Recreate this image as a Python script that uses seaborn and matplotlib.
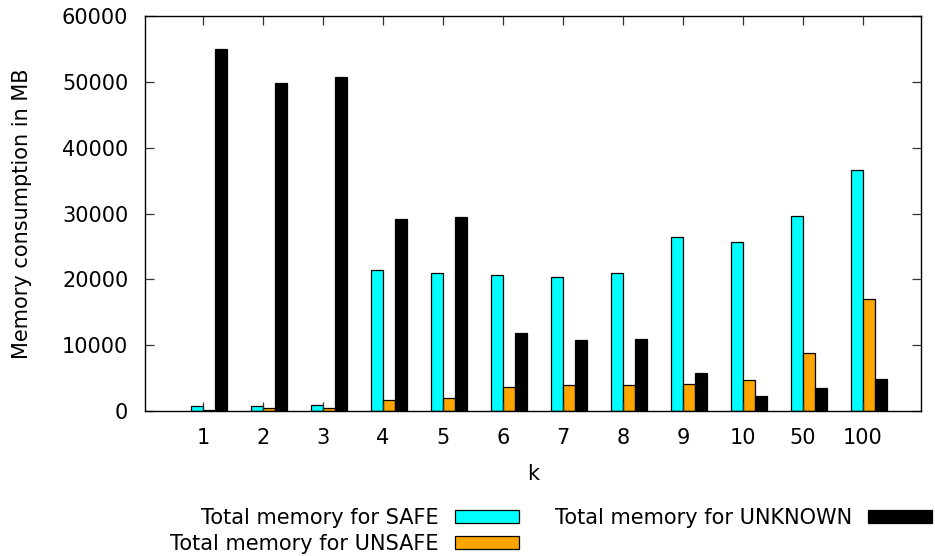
import matplotlib
matplotlib.use("Agg")
import matplotlib.pyplot as plt
import seaborn as sns
import numpy as np
import pandas as pd

k_labels = ["1", "2", "3", "4", "5", "6", "7", "8", "9", "10", "50", "100"]
safe_mem = [760, 760, 860, 21400, 20900, 20600, 20300, 20900, 26400, 25600, 29600, 36600]
unsafe_mem = [200, 450, 450, 1670, 1930, 3650, 3900, 3950, 4050, 4760, 8860, 17060]
unknown_mem = [55000, 49800, 50700, 29200, 29400, 11850, 10800, 11000, 5770, 2280, 3490, 4910]

series_names = ["Total memory for SAFE", "Total memory for UNSAFE", "Total memory for UNKNOWN"]
series_colors = ["#00FFFF", "#FFA500", "#000000"]

df = pd.DataFrame({
    "k": k_labels * 3,
    "mem": safe_mem + unsafe_mem + unknown_mem,
    "series": [series_names[0]] * len(k_labels) + [series_names[1]] * len(k_labels) + [series_names[2]] * len(k_labels),
})

plt.rcParams["font.family"] = ["DejaVu Sans"]
plt.rcParams["font.size"] = 15

fig = plt.figure(figsize=(9.35, 5.56), dpi=100)
W, H = 935, 556
ax = fig.add_axes([145 / W, 145 / H, 776 / W, 395 / H])

sns.barplot(data=df, x="k", y="mem", hue="series", order=k_labels,
            hue_order=series_names, palette=series_colors, width=0.6,
            edgecolor="black", linewidth=0.9, saturation=1, ax=ax, legend=True)

n = len(k_labels)
tick_pos = np.arange(n) - 0.1
ax.set_xticks(tick_pos)
ax.set_xticklabels(k_labels)
ax.set_xlim(tick_pos[0] - 0.967, tick_pos[-1] + 0.967)
ax.set_ylim(0, 60000)
ax.set_yticks(np.arange(0, 60001, 10000))

ax.tick_params(axis="both", which="major", direction="in", length=6.5, width=0.9,
               top=True, right=True, color="#333333", labelsize=15)
ax.tick_params(axis="x", pad=12)
ax.tick_params(axis="y", pad=12)
for s in ax.spines.values():
    s.set_linewidth(1.0)
    s.set_color("black")

ax.set_xlabel("k", fontsize=15)
ax.set_ylabel("Memory consumption in MB", fontsize=15)
ax.xaxis.set_label_coords(0.5, -0.135)
ax.yaxis.set_label_coords((32 - 145) / 776, 0.5)

handles, labels = ax.get_legend_handles_labels()
if ax.get_legend() is not None:
    ax.get_legend().remove()
for h in handles:
    h.set_edgecolor("black")
    h.set_linewidth(0.9)

fig.legend(handles, labels, loc="upper left", bbox_to_anchor=(170 / W, 1 - 508 / H),
           ncol=2, frameon=False, markerfirst=False, fontsize=15,
           handlelength=3.07, handleheight=0.62, handletextpad=0.77,
           columnspacing=1.73, labelspacing=0.27, borderpad=0, borderaxespad=0)

fig.savefig("out.png", dpi=100)
